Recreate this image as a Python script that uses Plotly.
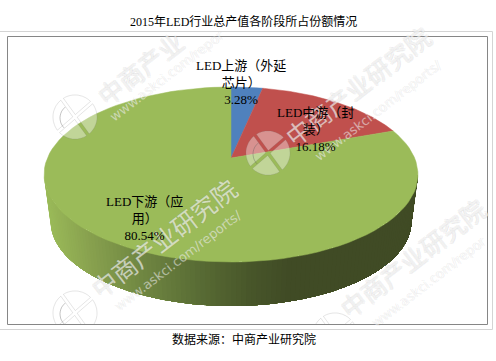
import math
import plotly.graph_objects as go

# ---- data ----
categories = ["LED上游（外延<br>芯片）", "LED中游（封<br>装）", "LED下游（应<br>用）"]
values = [3.28, 16.18, 80.54]
colors = ["#4F81BD", "#C0504D", "#9BBB59"]
title = "2015年LED行业总产值各阶段所占份额情况"
source = "数据来源：中商产业研究院"
label_positions = [(241, 82), (315, 129), (144, 218)]

# ---- projection of the 3D pie (perspective ellipse) ----
CX, CY, A, B, K = 231.0, 158.0, 183.6, 84.4, 0.1886
DEPTH_Y, DEPTH_S = 205.6, 0.965
FONT = "Liberation Serif, Noto Sans CJK SC"
W, H = 496, 361


def rim(theta, bottom=False):
    u, v = math.sin(theta), math.cos(theta)
    d = 1 + K * v
    if bottom:
        return CX + DEPTH_S * A * u / d, DEPTH_Y - DEPTH_S * B * v / d
    return CX + A * u / d, CY - B * v / d


def arc(t0, t1, bottom=False, n=90):
    return [rim(t0 + (t1 - t0) * i / n, bottom) for i in range(n + 1)]


def side_color(x):
    stops = [(44, (155, 187, 89)), (90, (135, 160, 78)), (140, (112, 135, 66)),
             (200, (88, 107, 52)), (250, (72, 86, 42)), (290, (64, 75, 37)), (420, (64, 75, 37))]
    for (x0, c0), (x1, c1) in zip(stops, stops[1:]):
        if x <= x1:
            f = max(0, (x - x0) / (x1 - x0))
            return "rgb(%d,%d,%d)" % tuple(round(a + (b - a) * f) for a, b in zip(c0, c1))
    return "rgb(64,75,37)"


fig = go.Figure()

# side wall: bands painted over one another so no seams show
front0 = math.acos(-K)
front1 = 2 * math.pi - front0
n_bands = 120
for i in range(n_bands - 1, -1, -1):
    t0 = front0 + (front1 - front0) * i / n_bands
    t1 = front0 + (front1 - front0) * (i + 1) / n_bands
    pts = arc(front0, t1, n=max(2, i + 1)) + arc(t1, front0, True, n=max(2, i + 1))
    mid = rim((t0 + t1) / 2)
    col = side_color(mid[0])
    fig.add_trace(go.Scatter(x=[p[0] for p in pts] + [pts[0][0]], y=[p[1] for p in pts] + [pts[0][1]],
                             mode="lines", fill="toself", fillcolor=col,
                             line=dict(color=col, width=0), hoverinfo="skip", showlegend=False))

# top face slices
start = 0.0
total = sum(values)
for cat, val, col in zip(categories, values, colors):
    end = start + val / total * 2 * math.pi
    pts = [(CX, CY)] + arc(start, end) + [(CX, CY)]
    fig.add_trace(go.Scatter(x=[p[0] for p in pts], y=[p[1] for p in pts], mode="lines", fill="toself",
                             fillcolor=col, line=dict(color=col, width=0.5), name=cat,
                             hoverinfo="name", showlegend=False))
    start = end

annotations = []

# ---- watermark ----
G = "rgba(125,125,125,.17)"
WM_SHADOW = f"1px 0 0 {G},-1px 0 0 {G},0 1px 0 {G},0 -1px 0 {G}"
G2 = "rgba(125,125,125,.22)"
URL_SHADOW = f"0.6px 0.6px 0 {G2},-0.6px -0.6px 0 {G2}"
wm_names = [("中商产业", 140, 68), ("中商产业研究院", 357, 86), ("中商产业研究院", 163, 238), ("中商产业研究院", 412, 258)]
wm_urls = [("www.askci.com/repor", 166, 76), ("www.askci.com/reports/", 378, 110),
           ("www.askci.com/reports/", 178, 260), ("www.askci.com/repor", 428, 282)]
wm_logos = [(75, 117), (268, 153), (75, 313), (335, 335)]
for text, x, y in wm_names:
    annotations.append(dict(x=x, y=y, xref="x", yref="y", text=text, showarrow=False, textangle=-37.5,
                            font=dict(family="Noto Sans CJK SC", size=25, color="rgba(255,255,255,.6)",
                                      shadow=WM_SHADOW)))
for text, x, y in wm_urls:
    annotations.append(dict(x=x, y=y, xref="x", yref="y", text=text, showarrow=False, textangle=-37.5,
                            font=dict(family="DejaVu Sans", size=13, color="rgba(255,255,255,.5)",
                                      shadow=URL_SHADOW)))

# chart texts sit above the watermark
for cat, val, (lx, ly) in zip(categories, values, label_positions):
    annotations.append(dict(x=lx, y=ly, xref="x", yref="y", text=f"{cat}<br>{val:.2f}%", showarrow=False,
                            font=dict(family=FONT, size=13, color="#000000"), align="center"))

annotations.append(dict(x=243 / W, y=1 - 12 / H, xref="paper", yref="paper", text=title, showarrow=False,
                        font=dict(family=FONT, size=12, color="#000000")))
annotations.append(dict(x=243.5 / W, y=1 - 349 / H, xref="paper", yref="paper", text=source, showarrow=False,
                        font=dict(family=FONT, size=12, color="#000000")))


def wedge_path(x, y, a0, a1, r=22, gap=1.6):
    half = math.radians(a1 - a0) / 2
    bis = math.radians(a0 + a1) / 2
    off = gap / math.sin(half)
    pts = [(x + off * math.cos(bis), y + off * math.sin(bis))]
    aa0, aa1 = a0 + math.degrees(gap / r), a1 - math.degrees(gap / r)
    for i in range(25):
        a = math.radians(aa0 + (aa1 - aa0) * i / 24)
        pts.append((x + r * math.cos(a), y + r * math.sin(a)))
    return "M" + " L".join(f"{px:.1f},{py:.1f}" for px, py in pts) + " Z"


shapes = []
for x, y in wm_logos:
    for a0, a1 in [(-126, -41), (-41, 54), (54, 139), (139, 234)]:
        shapes.append(dict(type="path", xref="x", yref="y", path=wedge_path(x, y, a0, a1), layer="above",
                           fillcolor="rgba(255,255,255,.38)", line=dict(color="rgba(120,120,120,.28)", width=0.7)))
    # inner crescent of the logo
    inner = [(x + 14 * math.cos(math.radians(a)) - 1, y + 14 * math.sin(math.radians(a)) + 1)
             for a in range(135, 235, 8)]
    shapes.append(dict(type="path", xref="x", yref="y", layer="above",
                       path="M" + " L".join(f"{px:.1f},{py:.1f}" for px, py in inner),
                       line=dict(color="rgba(90,90,90,.45)", width=0.8)))

# frames
shapes.append(dict(type="rect", xref="paper", yref="paper", x0=-1 / W, x1=492.5 / W,
                   y0=1 - 329.5 / H, y1=1 - 31.5 / H, line=dict(color="#D4D4D4", width=1), layer="below"))
shapes.append(dict(type="rect", xref="paper", yref="paper", x0=7.5 / W, x1=487.5 / W,
                   y0=1 - 324.5 / H, y1=1 - 36.5 / H, line=dict(color="#868686", width=1), layer="above"))

fig.update_layout(
    width=W, height=H, paper_bgcolor="#FFFFFF", plot_bgcolor="#FFFFFF",
    margin=dict(l=0, r=0, t=0, b=0), showlegend=False,
    xaxis=dict(domain=[7.5 / W, 487.5 / W], range=[7.5, 487.5], visible=False, fixedrange=True),
    yaxis=dict(domain=[1 - 324.5 / H, 1 - 36.5 / H], range=[324.5, 36.5], visible=False, fixedrange=True),
    annotations=annotations, shapes=shapes,
)
fig.write_html("out.html", config=dict(displayModeBar=False),
               post_script="document.body.style.margin='0';document.body.style.overflow='hidden';")
